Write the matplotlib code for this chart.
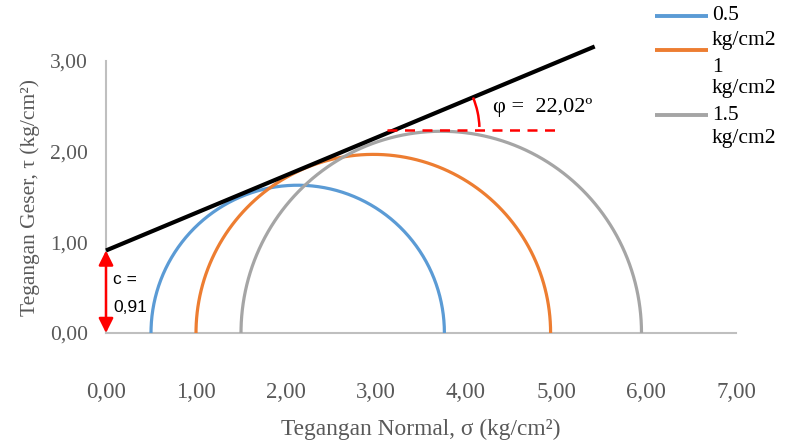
import numpy as np
import matplotlib
matplotlib.use("Agg")
import matplotlib.pyplot as plt
from matplotlib.lines import Line2D
from matplotlib.patches import Arc

# ---- data ----
sigma3 = [0.5, 1.0, 1.5]          # kg/cm2
sigma1 = [3.76, 4.94, 5.95]       # kg/cm2
labels = ["0.5 kg/cm2", "1 kg/cm2", "1.5 kg/cm2"]
colors = ["#5B9BD5", "#ED7D31", "#A5A5A5"]
env_sigma = [0.0, 5.43]
env_tau = [0.91, 3.16]
c_value = 0.91
phi_text = "φ =  22,02º"
ref_sigma = [3.12, 5.04]
ref_tau = 2.24
xticks = [0, 1, 2, 3, 4, 5, 6, 7]
yticks = [0, 1, 2, 3]

W, H = 787, 441
fig = plt.figure(figsize=(W / 100, H / 100), dpi=100)
ax = fig.add_axes([106 / W, (H - 333) / H, 630 / W, 272 / H])
ax.set_xlim(0, 7)
ax.set_ylim(0, 3)

serif = "Liberation Serif"
gray_txt = "#595959"

for s3, s1, col in zip(sigma3, sigma1, colors):
    c = (s1 + s3) / 2
    r = (s1 - s3) / 2
    t = np.linspace(0, np.pi, 300)
    ax.plot(c + r * np.cos(t), r * np.sin(t), color=col, lw=2.3,
            solid_capstyle="butt", clip_on=False, zorder=3)

ax.plot(env_sigma, env_tau, color="black", lw=3.0, solid_capstyle="butt",
        clip_on=False, zorder=4)

# reference horizontal dashed line and angle arc
ax.plot(ref_sigma, [ref_tau, ref_tau], color="#FF0000", lw=1.8,
        dashes=(4, 3), zorder=5)
slope = (env_tau[1] - env_tau[0]) / (env_sigma[1] - env_sigma[0])
x0 = (ref_tau - env_tau[0]) / slope
ang = np.degrees(np.arctan(slope * (3 / 272) / (7 / 630)))
arc = Arc((x0, ref_tau), 2 * 0.94, 2 * 0.94 * (630 / 7) / (272 / 3),
          theta1=2, theta2=ang, color="#FF0000", lw=1.8, zorder=5)
ax.add_patch(arc)
ax.text(4.30, 2.49, phi_text, fontsize=16, family=serif, color="black",
        va="center", ha="left")

# cohesion arrow
ax.annotate("", xy=(0, c_value), xytext=(0, 0),
            arrowprops=dict(arrowstyle="<|-|>", color="#FF0000", lw=1.8,
                            mutation_scale=22, shrinkA=0, shrinkB=0),
            annotation_clip=False, zorder=6)
ax.text(0.08, 0.59, "c =", fontsize=12.5, family="Liberation Sans",
        va="center", ha="left")
ax.text(0.08, 0.28, f"{c_value:.2f}".replace(".", ","),
        fontsize=12.5, family="Liberation Sans", va="center", ha="left")

# axes styling
for s in ["top", "right"]:
    ax.spines[s].set_visible(False)
for s in ["left", "bottom"]:
    ax.spines[s].set_color("#BFBFBF")
    ax.spines[s].set_linewidth(1.5)
ax.set_xticks(xticks)
ax.set_yticks(yticks)
ax.set_xticklabels([f"{v:.2f}".replace(".", ",") for v in xticks])
ax.set_yticklabels([f"{v:.2f}".replace(".", ",") for v in yticks])
ax.tick_params(length=0, labelcolor=gray_txt)
ax.tick_params(axis="x", pad=35, labelsize=16.5)
ax.tick_params(axis="y", pad=13, labelsize=15.5)
for lab in ax.get_xticklabels() + ax.get_yticklabels():
    lab.set_family(serif)
ax.set_xlabel("Tegangan Normal, σ (kg/cm²)", fontsize=16.8,
              family=serif, color=gray_txt, labelpad=12)
ax.set_ylabel("Tegangan Geser, τ (kg/cm²)", fontsize=15.5,
              family=serif, color=gray_txt, labelpad=7)
ax.patch.set_alpha(0)

# manual legend (pixel layout of the original)
def fx(px):
    return px / W

def fy(py):
    return 1 - py / H

handle_y = [16, 50, 115]
text_y = [(16, 40), (67, 89), (115, 138)]
for lab, col, hy, (ty1, ty2) in zip(labels, colors, handle_y, text_y):
    fig.add_artist(Line2D([fx(655), fx(708)], [fy(hy), fy(hy)], color=col,
                          lw=2.8, solid_capstyle="butt"))
    l1, l2 = lab.split(" ", 1)
    fig.text(fx(712), fy(ty1), l1, fontsize=15.5, family=serif, va="center",
             ha="left")
    fig.text(fx(712), fy(ty2), l2, fontsize=15.5, family=serif, va="center",
             ha="left")

fig.savefig("out.png", dpi=100)
